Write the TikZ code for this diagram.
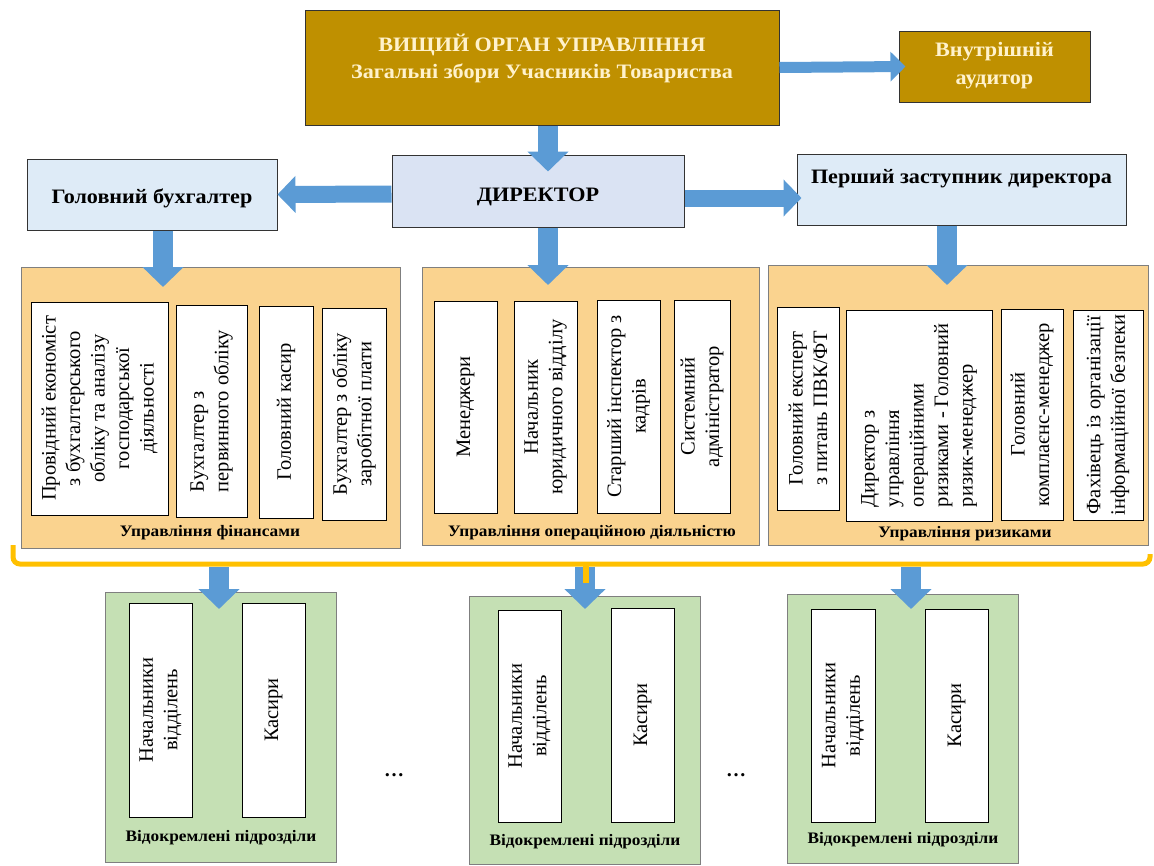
\documentclass[tikz,border=0pt]{standalone}
\usepackage{fontspec}
\setmainfont{Liberation Serif}
\newfontfamily\wideserif[FakeStretch=1.08]{Liberation Serif}
\usetikzlibrary{arrows.meta}

\definecolor{goldfill}{HTML}{BF9000}
\definecolor{goldtext}{HTML}{FFF2CC}
\definecolor{dirfill}{HTML}{DAE3F3}
\definecolor{paleblue}{HTML}{DEEBF7}
\definecolor{unitfill}{HTML}{FAD38F}
\definecolor{branchfill}{HTML}{C5E0B4}
\definecolor{arrowblue}{HTML}{5B9BD5}
\definecolor{busorange}{HTML}{FFC000}
\definecolor{edgegray}{HTML}{7F7F7F}

\tikzset{
  goldbox/.style={draw=black!80, line width=1pt, fill=goldfill, inner sep=0pt},
  goldlbl/.style={text=goldtext, align=center, font=\wideserif\bfseries\fontsize{20.5}{27}\selectfont},
  headbox/.style={draw=black!80, line width=1pt, fill=paleblue, inner sep=0pt},
  headlbl/.style={font=\wideserif\bfseries\fontsize{20.5}{25}\selectfont},
  unitbox/.style={draw=edgegray, line width=0.8pt, fill=unitfill, inner sep=0pt},
  branchbox/.style={draw=edgegray, line width=0.8pt, fill=branchfill, inner sep=0pt},
  postbox/.style={draw=black, line width=1pt, fill=white, inner sep=0pt, rotate=90,
    align=center, font=\fontsize{20.5}{24.5}\selectfont},
  unitlbl/.style={font=\wideserif\bfseries\fontsize{16}{19}\selectfont},
  arrv/.style={arrowblue, line width=20pt, -{Triangle[length=20pt,width=40pt]}},
  arrh/.style={arrowblue, line width=17pt, -{Triangle[length=18pt,width=36pt]}},
  arrthin/.style={arrowblue, line width=11pt, -{Triangle[length=15pt,width=29pt]}},
}

\begin{document}
\begin{tikzpicture}[x=1pt, y=-1pt]
  \useasboundingbox (0,0) rectangle (1154,865);

  % top level
  \node[goldbox, minimum width=474pt, minimum height=115pt] (organ) at (542,67.5) {};
  \node[goldlbl] (organtxt) at (542,58) {ВИЩИЙ ОРГАН УПРАВЛІННЯ\\Загальні збори Учасників Товариства};
  \node[goldbox, minimum width=191pt, minimum height=71pt] (audit) at (994.5,66.5) {};
  \node[goldlbl, font=\wideserif\bfseries\fontsize{20.5}{28}\selectfont] (audittxt) at (994.5,66) {Внутрішній\\аудитор};

  % management
  \node[headbox, fill=dirfill, minimum width=292pt, minimum height=72pt] (dir) at (538,191) {};
  \node[headlbl] (dirtxt) at (538,197) {ДИРЕКТОР};
  \node[headbox, minimum width=250pt, minimum height=71pt] (acc) at (152,194.5) {};
  \node[headlbl] (acctxt) at (152,198) {Головний бухгалтер};
  \node[headbox, minimum width=329pt, minimum height=71pt] (dep) at (961.5,189.5) {};
  \node[headlbl] (deptxt) at (961.5,179) {Перший заступник директора};

  % departments
  \node[unitbox, minimum width=379pt, minimum height=281pt] (fin) at (210.5,407.5) {};
  \node[unitbox, minimum width=337pt, minimum height=278pt] (ops) at (590.5,406) {};
  \node[unitbox, minimum width=380pt, minimum height=280pt] (risk) at (958,405) {};
  \node[unitlbl] (finlbl) at (210,533) {Управління фінансами};
  \node[unitlbl] (opslbl) at (592,533) {Управління операційною діяльністю};
  \node[unitlbl] (risklbl) at (965,534) {Управління ризиками};

  \node[postbox, minimum width=213pt, minimum height=137pt] (fin1) at (99.5,408.5)
    {Провідний економіст\\з бухгалтерського\\обліку та аналізу\\господарської\\діяльності};
  \node[postbox, align=left, minimum width=212pt, minimum height=71pt] (fin2) at (211.5,411)
    {Бухгалтер з\\первинного обліку};
  \node[postbox, minimum width=212pt, minimum height=54pt] (fin3) at (286,412) {Головний касир};
  \node[postbox, minimum width=212pt, minimum height=64pt] (fin4) at (354,414)
    {Бухгалтер з обліку\\заробітної плати};

  \node[postbox, minimum width=212pt, minimum height=63pt] (ops1) at (465.5,407) {Менеджери};
  \node[postbox, minimum width=212pt, minimum height=63pt] (ops2) at (545.5,407)
    {Начальник\\юридичного відділу};
  \node[postbox, minimum width=213pt, minimum height=63pt] (ops3) at (628.5,406.5)
    {Старший інспектор з\\кадрів};
  \node[postbox, minimum width=213pt, minimum height=56pt] (ops4) at (702,406.5)
    {Системний\\адміністратор};

  \node[postbox, align=left, minimum width=203pt, minimum height=62pt] (risk1) at (808,408.5)
    {Головний експерт\\з питань ПВК/ФТ};
  \node[postbox, align=left, minimum width=211pt, minimum height=146pt] (risk2) at (919,415.5)
    {Директор з\\управління\\операційними\\ризиками - Головний\\ризик-менеджер};
  \node[postbox, minimum width=211pt, minimum height=62pt] (risk3) at (1032,414.5)
    {Головний\\комплаєнс-менеджер};
  \node[postbox, minimum width=210pt, minimum height=70pt] (risk4) at (1108,415)
    {Фахівець із організації\\інформаційної безпеки};

  % branches
  \node[branchbox, minimum width=231pt, minimum height=270pt] (br1) at (220.5,727) {};
  \node[branchbox, minimum width=231pt, minimum height=268pt] (br2) at (584.5,730) {};
  \node[branchbox, minimum width=231pt, minimum height=269pt] (br3) at (902.5,728.5) {};
  \node[postbox, minimum width=214pt, minimum height=63pt] (br1a) at (160.5,710) {Начальники\\відділень};
  \node[postbox, minimum width=214pt, minimum height=63pt] (br1b) at (273.5,710) {Касири};
  \node[postbox, minimum width=212pt, minimum height=63pt] (br2a) at (529.5,716) {Начальники\\відділень};
  \node[postbox, minimum width=214pt, minimum height=63pt] (br2b) at (642.5,715) {Касири};
  \node[postbox, minimum width=213pt, minimum height=64pt] (br3a) at (843,715.5) {Начальники\\відділень};
  \node[postbox, minimum width=213pt, minimum height=63pt] (br3b) at (956.5,715.5) {Касири};
  \node[unitlbl] (br1lbl) at (221,838) {Відокремлені підрозділи};
  \node[unitlbl] (br2lbl) at (585,842) {Відокремлені підрозділи};
  \node[unitlbl] (br3lbl) at (903,840) {Відокремлені підрозділи};
  \node[font=\bfseries\fontsize{20}{20}\selectfont] (dots1) at (394,775) {…};
  \node[font=\bfseries\fontsize{20}{20}\selectfont] (dots2) at (736,775) {…};

  % arrow ends
  \coordinate (finin) at (163,287);
  \coordinate (opsin) at (548,285);
  \coordinate (riskin) at (947,285);
  \coordinate (bus1) at (219,567);
  \coordinate (bus2) at (585,567);
  \coordinate (bus3) at (911,567);
  \coordinate (br1in) at (219,609);
  \coordinate (br2in) at (585,609);
  \coordinate (br3in) at (911,609);

  \path (organ.east) edge [arrthin] ([xshift=7pt]audit.west);
  \path ([xshift=6pt]organ.south) edge [arrv] ([xshift=10pt,yshift=-17pt]dir.north);
  \path ([yshift=-3pt]dir.west) edge [arrh] (acc.east);
  \path ([yshift=-7pt]dir.east) edge [arrh] ([xshift=5pt,yshift=-8.5pt]dep.west);
  \path ([xshift=11pt]acc.south) edge [arrv] (finin);
  \path ([xshift=10pt]dir.south) edge [arrv] (opsin);
  \path ([xshift=-14.5pt]dep.south) edge [arrv] (riskin);
  \path (bus1) edge [arrv] (br1in);
  \path (bus2) edge [arrv] (br2in);
  \path (bus3) edge [arrv] (br3in);

  % orange bus
  \draw[busorange, line width=5pt, rounded corners=7pt] (13,545) -- (13,564) -- (1150,564) -- (1150,554);
  \draw[busorange, line width=6pt] (586,564) -- (586,583);
\end{tikzpicture}
\end{document}
